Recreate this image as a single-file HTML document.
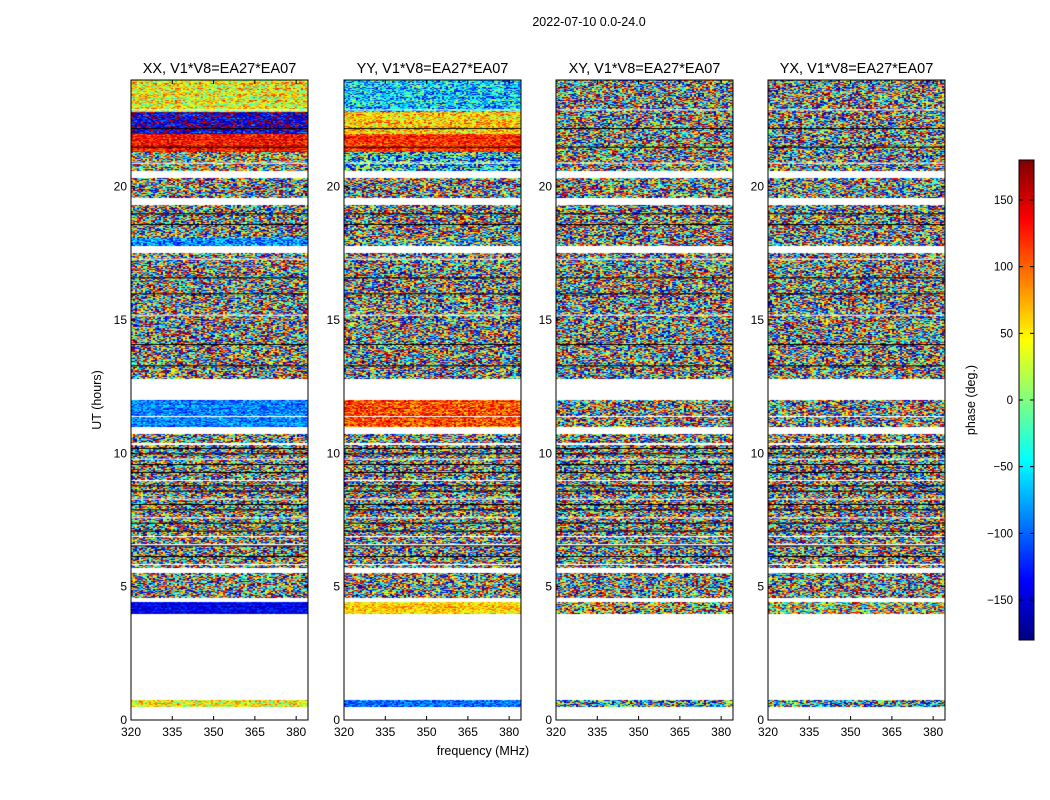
<!DOCTYPE html>
<html><head><meta charset="utf-8">
<style>
body{margin:0;background:#fff;font-family:"Liberation Sans",sans-serif;}
#wrap{position:relative;width:1050px;height:800px;overflow:hidden;}
</style></head><body>
<div id="wrap">
<svg id="svg" width="1050" height="800" style="position:absolute;left:0;top:0"></svg>
</div>
<script>
// ---- data ----
const panelTitles = ["XX, V1*V8=EA27*EA07","YY, V1*V8=EA27*EA07","XY, V1*V8=EA27*EA07","YX, V1*V8=EA27*EA07"];
const xTicks = [320,335,350,365,380];
const yTicks = [0,5,10,15,20];
const cbTicks = [-150,-100,-50,0,50,100,150];
const cbLabels = ["\u2212150","\u2212100","\u221250","0","50","100","150"];
// bands: [startHour, endHour, phaseDeg, spreadDeg]
const bandsXX = [[0.5,0.75,40,60],[4.0,4.4,-140,30],[4.6,5.5,0,180],[5.7,6.5,-20,180],[6.6,10.3,0,180],[10.4,10.7,0,180],[11.0,12.0,-90,40],[12.8,17.5,-10,180],[17.8,18.1,-80,60],[18.1,19.3,0,180],[19.6,20.3,-20,180],[20.6,21.3,40,160],[21.3,22.0,130,40],[22.0,22.8,-150,60],[22.8,24.0,40,70]];
const bandsYY = [[0.5,0.75,-100,40],[4.0,4.4,60,40],[4.6,5.5,0,180],[5.7,6.5,-20,180],[6.6,10.3,0,180],[10.4,10.7,0,180],[11.0,12.0,110,50],[12.8,17.5,-10,180],[17.8,18.1,-40,150],[18.1,19.3,0,180],[19.6,20.3,-20,180],[20.6,21.3,-60,120],[21.3,22.0,120,40],[22.0,22.8,60,60],[22.8,24.0,-60,80]];
const bandsXY = [[0.5,0.75,-60,150],[4.0,4.4,80,150],[4.6,5.5,0,180],[5.7,6.5,-20,180],[6.6,10.3,0,180],[10.4,10.7,0,180],[11.0,12.0,60,180],[12.8,17.5,-10,180],[17.8,18.1,-40,180],[18.1,19.3,0,180],[19.6,20.3,-20,180],[20.6,21.3,0,180],[21.3,24.0,0,180]];
const bandsYX = [[0.5,0.75,-60,150],[4.0,4.4,20,150],[4.6,5.5,0,180],[5.7,6.5,-20,180],[6.6,10.3,0,180],[10.4,10.7,0,180],[11.0,12.0,60,180],[12.8,17.5,-10,180],[17.8,18.1,-40,180],[18.1,19.3,0,180],[19.6,20.3,-20,180],[20.6,21.3,0,180],[21.3,24.0,0,180]];
const allBands = [bandsXX,bandsYY,bandsXY,bandsYX];
const gapHours = [5.85,6.15,6.55,6.9,7.1,7.4,7.6,7.9,8.1,8.3,8.6,8.8,9.0,9.3,9.6,9.8,10.0,10.2,11.4,13.3,14.1,15.2,16.0,16.6,17.3,18.6,19.0,20.9,21.5,22.2,22.9];

const NS="http://www.w3.org/2000/svg";
const svg=document.getElementById('svg');
const panelX=[131,344,556,768], PW=177, TOP=80, BOT=720;
const xScale=(px,f)=>px+(f-320)/64.3*PW;
const yScale=h=>BOT-(h/24)*(BOT-TOP);
function jet(v){
  const c=x=>Math.max(0,Math.min(1,x));
  const r=c(1.5-Math.abs(4*v-3)), g=c(1.5-Math.abs(4*v-2)), b=c(1.5-Math.abs(4*v-1));
  return `rgb(${Math.round(r*255)},${Math.round(g*255)},${Math.round(b*255)})`;
}
function hash(a,b,c){let h=(a*374761393+b*668265263+c*2147483647)|0;h=(h^(h>>>13))*1274126177|0;return ((h^(h>>>16))>>>0)/4294967296;}
function el(tag,attrs,parent){const e=document.createElementNS(NS,tag);for(const k in attrs)e.setAttribute(k,attrs[k]);(parent||svg).appendChild(e);return e;}
function txt(x,y,s,size,anchor,parent){const t=el('text',{x:x,y:y,'font-size':size,'text-anchor':anchor||'middle','font-family':'Liberation Sans, sans-serif',fill:'#000'},parent);t.textContent=s;return t;}

const cell=2;
allBands.forEach((bands,pi)=>{
  const px=panelX[pi];
  const g=el('g',{});
  
  
  const canvas=document.createElement('canvas');canvas.width=PW;canvas.height=BOT-TOP;
  const ctx=canvas.getContext('2d');
  bands.forEach((b,bi)=>{
    const y0=yScale(b[1])-TOP,y1=yScale(b[0])-TOP;
    for(let y=Math.floor(y0);y<y1;y+=1){
      const rowOff=(hash(pi,bi,y)-0.5)*b[3]*0.6;
      for(let x=0;x<PW;x+=cell){
        let ph=b[2]+rowOff+(hash(x,y,pi*31+bi)-0.5)*2*b[3];
        while(ph>180)ph-=360;while(ph<-180)ph+=360;
        ctx.fillStyle=jet((ph+180)/360);
        ctx.fillRect(x,y,cell,1);
      }
    }
  });
  gapHours.forEach((h,i)=>{
    const y=yScale(h)-TOP;
    ctx.fillStyle=(i%3==0)?'#fff':'#000';
    ctx.fillRect(0,y,PW,1);
  });
  const img=el('image',{x:px,y:TOP,width:PW,height:BOT-TOP,href:canvas.toDataURL()},g);
  
  
  const fr=el('rect',{x:px,y:TOP,width:PW,height:BOT-TOP,fill:'none',stroke:'#000','stroke-width':1},g);
  
  
  const t=txt(px+PW/2,73,panelTitles[pi],14.5,'middle',g);
  
  
  xTicks.forEach(f=>{
    const x=xScale(px,f);
    el('line',{x1:x,x2:x,y1:BOT,y2:BOT-4,stroke:'#000'},g);
    el('line',{x1:x,x2:x,y1:TOP,y2:TOP+4,stroke:'#000'},g);
    const l=txt(x,736,String(f),12,'middle',g);
    
    
  });
  yTicks.forEach(h=>{
    const y=yScale(h);
    el('line',{x1:px,x2:px+4,y1:y,y2:y,stroke:'#000'},g);
    el('line',{x1:px+PW,x2:px+PW-4,y1:y,y2:y,stroke:'#000'},g);
    const l=txt(px-4,y+4,String(h),12,'end',g);
    
    
  });
});
const st=txt(589,26,"2022-07-10 0.0-24.0",12.5);


const xl=txt(483,755,"frequency (MHz)",12.5);


const yl=txt(0,0,"UT (hours)",12.5);yl.setAttribute('transform','translate(101,400) rotate(-90)');


const cbX=1019,cbW=15,cbTop=160,cbBot=640;
const cbY=v=>cbBot-(v+180)/360*(cbBot-cbTop);
const cg=el('g',{});


for(let i=0;i<240;i++){
  const v=-180+i*1.5;
  el('rect',{x:cbX,y:cbY(v+1.5),width:cbW,height:(cbBot-cbTop)/240+0.5,fill:jet((v+0.75+180)/360)},cg);
}
el('rect',{x:cbX,y:cbTop,width:cbW,height:cbBot-cbTop,fill:'none',stroke:'#000'},cg);
cbTicks.forEach((v,i)=>{
  const y=cbY(v);
  el('line',{x1:cbX,x2:cbX+4,y1:y,y2:y,stroke:'#000'},cg);
  el('line',{x1:cbX+cbW,x2:cbX+cbW-4,y1:y,y2:y,stroke:'#000'},cg);
  const l=txt(1013,y+4,cbLabels[i],11.5,'end',cg);
  
  
});
const cl=txt(0,0,"phase (deg.)",12.5,'middle',cg);cl.setAttribute('transform','translate(975,400) rotate(-90)');


</script>
</body></html>
